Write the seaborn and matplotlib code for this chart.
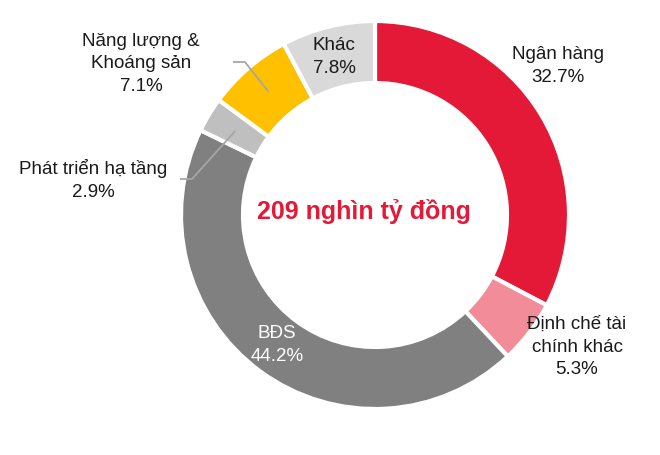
import numpy as np
import matplotlib
matplotlib.use("Agg")
import matplotlib.pyplot as plt
import seaborn as sns

# data
sectors = ["Ngân hàng", "Định chế tài\nchính khác", "BĐS", "Phát triển hạ tầng",
           "Năng lượng &\nKhoáng sản", "Khác"]
shares = [32.7, 5.3, 44.2, 2.9, 7.1, 7.8]
colors = ["#E31937", "#F28C98", "#808080", "#BFBFBF", "#FFC000", "#D9D9D9"]
total_label = "209 nghìn tỷ đồng"

sns.set_theme(style="white")
plt.rcParams["font.family"] = ["Liberation Sans", "DejaVu Sans"]

W, H = 660, 455
fig = plt.figure(figsize=(W / 100, H / 100), dpi=100)
ax = fig.add_axes([0, 0, 1, 1])

cx, cy, R = 375, H - 215, 194
width = 62

wedges, _ = ax.pie(shares, colors=sns.color_palette(colors), startangle=90,
                   counterclock=False, center=(cx, cy), radius=R,
                   wedgeprops=dict(width=width, edgecolor="white", linewidth=3))
ax.set_xlim(0, W)
ax.set_ylim(0, H)
ax.set_aspect("equal")
ax.axis("off")

txt = "#1a1a1a"
fs = 13.5
# label positions (pixels from top-left)
label_pos = {
    0: (558, 66, txt),
    1: (577, 347, txt),
    2: (277, 345, "white"),
    3: (93, 180, txt),
    4: (141, 64, txt),
    5: (334, 57, txt),
}
for i, (x, y, c) in label_pos.items():
    ax.text(x, H - y, f"{sectors[i]}\n{shares[i]}%", ha="center", va="center",
            fontsize=fs, color=c, linespacing=1.42)

# leader lines for small wedges
rmid = R - width / 2
for i, (x0, x1, ye) in {4: (233, 245, 62), 3: (180, 192, 179)}.items():
    w = wedges[i]
    ang = np.deg2rad((w.theta1 + w.theta2) / 2)
    ex, ey = cx + rmid * np.cos(ang), cy + rmid * np.sin(ang)
    ax.plot([x0, x1, ex], [H - ye, H - ye, ey], color="#A6A6A6", lw=1.3,
            solid_capstyle="butt", zorder=5)

ax.text(364, H - 212, total_label, ha="center", va="center", fontsize=18,
        fontweight="bold", color="#E31937")

fig.savefig("out.png", dpi=100)
